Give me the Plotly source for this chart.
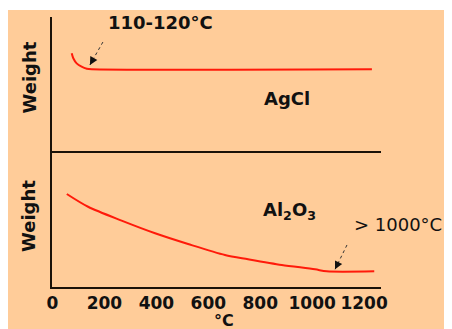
import plotly.graph_objects as go

# ---- data (temperature in °C, relative weight) ----
agcl_temp = [74, 80, 93, 112, 132, 151, 1230]
agcl_weight = [7.29, 6.92, 6.54, 6.29, 6.14, 6.10, 6.10]

al2o3_temp = [55, 137, 266, 395, 522, 664, 753, 883, 1011, 1056, 1239]
al2o3_weight = [6.84, 5.90, 4.88, 3.95, 3.16, 2.35, 2.04, 1.62, 1.30, 1.15, 1.15]

x_ticks = [0, 200, 400, 600, 800, 1000, 1200]
x_ticklabels = [str(v) for v in x_ticks]

# annotation anchor points (data coords of each panel)
agcl_arrow_tip = (144, 6.42)
agcl_arrow_tail = (194, 8.13)
al_arrow_tip = (1088, 1.30)
al_arrow_tail = (1134, 3.09)

BG = "#FFCC99"
RED = "#FF1A0A"
AX = "#1a1208"
FONT = "DejaVu Sans"
split = 0.5037

fig = go.Figure()
fig.add_trace(go.Scatter(x=agcl_temp, y=agcl_weight, xaxis="x2", yaxis="y2",
                         mode="lines", line=dict(color=RED, width=2, shape="spline", smoothing=0.8),
                         hoverinfo="skip", showlegend=False))
fig.add_trace(go.Scatter(x=al2o3_temp, y=al2o3_weight, xaxis="x", yaxis="y",
                         mode="lines", line=dict(color=RED, width=2, shape="spline", smoothing=0.8),
                         hoverinfo="skip", showlegend=False))

xcommon = dict(range=[-2, 1265], showgrid=False, zeroline=False, showline=True,
               linecolor=AX, linewidth=2, ticks="", tickvals=x_ticks, ticktext=x_ticklabels)
ycommon = dict(range=[0, 10], showgrid=False, zeroline=False, showline=True,
               linecolor=AX, linewidth=2, ticks="", showticklabels=False)

fig.update_layout(
    width=444, height=321,
    margin=dict(l=44, r=71, t=9, b=42, pad=0),
    paper_bgcolor="white",
    plot_bgcolor="rgba(0,0,0,0)",
    font=dict(family=FONT, color="#111111"),
    xaxis=dict(**xcommon, anchor="y", domain=[0, 1],
               tickfont=dict(family=FONT, size=17, color="#111111", weight="bold")),
    yaxis=dict(**ycommon, anchor="x", domain=[0, split]),
    xaxis2=dict(**xcommon, anchor="y2", matches="x", showticklabels=False),
    yaxis2=dict(**ycommon, anchor="x2", domain=[split, 1]),
)

# peach background panel
fig.add_shape(type="rect", xref="paper", yref="paper",
              x0=-0.1398, x1=1.2158, y0=-0.1556, y1=1.0259,
              fillcolor=BG, line=dict(width=0), layer="below")

# dashed arrow shafts
fig.add_shape(type="line", xref="x2", yref="y2",
              x0=agcl_arrow_tail[0], y0=agcl_arrow_tail[1],
              x1=agcl_arrow_tip[0], y1=agcl_arrow_tip[1],
              line=dict(color="#333333", width=1, dash="dot"))
fig.add_shape(type="line", xref="x", yref="y",
              x0=al_arrow_tail[0], y0=al_arrow_tail[1],
              x1=al_arrow_tip[0], y1=al_arrow_tip[1],
              line=dict(color="#333333", width=1, dash="dot"))

# arrowheads
fig.add_annotation(x=agcl_arrow_tip[0], y=agcl_arrow_tip[1], xref="x2", yref="y2",
                   text="", showarrow=True, ax=3.4, ay=-6.1, arrowhead=2,
                   arrowsize=1.6, arrowwidth=1, arrowcolor="#111111")
fig.add_annotation(x=al_arrow_tip[0], y=al_arrow_tip[1], xref="x", yref="y",
                   text="", showarrow=True, ax=3.1, ay=-6.3, arrowhead=2,
                   arrowsize=1.6, arrowwidth=1, arrowcolor="#111111")

def txt(t, x, y, size=18, angle=0):
    fig.add_annotation(text=t, x=x, y=y, xref="paper", yref="paper",
                       xanchor="center", yanchor="middle", showarrow=False,
                       textangle=angle, font=dict(family=FONT, size=size, color="#111111"))

txt("<b>110-120°C</b>", 0.3313, 0.978, 18)
txt("<b>AgCl</b>", 0.7128, 0.700, 18)
txt("<b>Al<sub>2</sub>O<sub>3</sub></b>", 0.7225, 0.2815, 18)
txt("> 1000°C", 1.0517, 0.232, 18)
txt("<b>Weight</b>", -0.0699, 0.776, 18, -90)
txt("<b>Weight</b>", -0.0699, 0.263, 18, -90)
txt("<b>°C</b>", 0.5228, -0.124, 16)

fig.write_html("out.html")
